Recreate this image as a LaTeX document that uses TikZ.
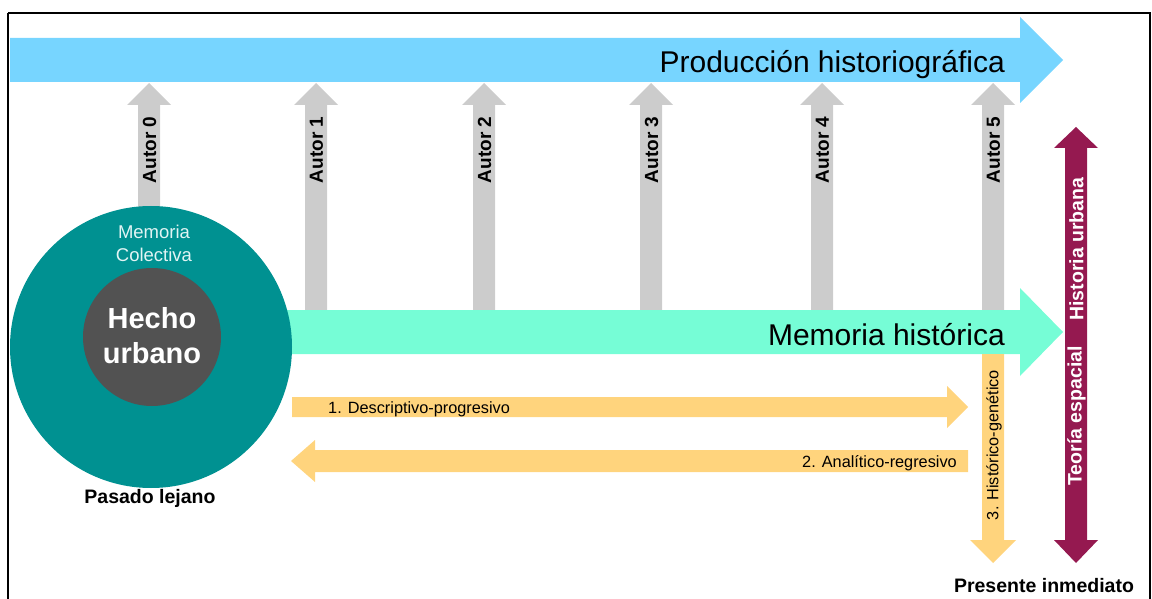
\documentclass[tikz,border=0pt]{standalone}
\usepackage{fontspec}
\setmainfont{Liberation Sans}
\definecolor{cblue}{HTML}{77D5FF}
\definecolor{cgreen}{HTML}{76FDD6}
\definecolor{cgray}{HTML}{CCCCCC}
\definecolor{cyellow}{HTML}{FFD47D}
\definecolor{cmaroon}{HTML}{951950}
\definecolor{cteal}{HTML}{009191}
\definecolor{cdark}{HTML}{525252}
\definecolor{clight}{HTML}{E2F4F4}
\tikzset{
  blk/.style={fill=#1, draw=none},
  bigtxt/.style={font=\fontsize{30}{36}\selectfont, inner sep=0pt},
  autortxt/.style={font=\bfseries\fontsize{19}{22}\selectfont, rotate=90, inner sep=0pt},
  smalltxt/.style={font=\fontsize{16.3}{19}\selectfont, inner sep=0pt},
  boldlbl/.style={font=\bfseries\fontsize{19.5}{23}\selectfont, inner sep=0pt},
}
\begin{document}
\begin{tikzpicture}[x=1pt,y=-1pt]
\useasboundingbox (0,0) rectangle (1152,599);
% frame
\draw[line width=2pt] (8,13) -- (1150,13) -- (1150,615) (8,13) -- (8,615);
% blue arrow
\fill[cblue] (10,38) -- (1020,38) -- (1020,17) -- (1063,60) -- (1020,103) -- (1020,82) -- (10,82) -- cycle;
\node[bigtxt, anchor=base east] (prod) at (1005,73) {Producción historiográfica};
% gray author arrows
\foreach \cx/\yb/\k in {149/240/0, 316/315/1, 484/315/2, 651/315/3, 822/315/4, 993/315/5}{
  \fill[cgray] (\cx-11,\yb) -- (\cx-11,105) -- (\cx-22,105) -- (\cx,83) -- (\cx+22,105) -- (\cx+11,105) -- (\cx+11,\yb) -- cycle;
  \node[autortxt] (autor\k) at (\cx+0.5,150) {Autor \k};
}
% green arrow
\fill[cgreen] (270,310) -- (1020,310) -- (1020,288) -- (1063,332) -- (1020,376) -- (1020,354) -- (270,354) -- cycle;
\node[bigtxt, anchor=base east] (memh) at (1005,345) {Memoria histórica};
% circles
\fill[cteal] (151,347) circle[radius=141];
\fill[cdark] (152,337) circle[radius=69];
\node[font=\fontsize{18.5}{23}\selectfont, text=clight, align=center, inner sep=0pt, anchor=base] (memc) at (154,261) {Memoria\\Colectiva};
\node[font=\bfseries\fontsize{29}{35}\selectfont, text=white, align=center, inner sep=0pt, anchor=base] (hecho) at (152,363) {Hecho\\urbano};
% yellow arrows
\fill[cyellow] (292,397) -- (947,397) -- (947,386) -- (968,407) -- (947,428) -- (947,417) -- (292,417) -- cycle;
\node[smalltxt, anchor=base west] (desc) at (328,413) {1. Descriptivo-progresivo};
\fill[cyellow] (968,450) -- (315,450) -- (315,440) -- (291,461) -- (315,482) -- (315,472) -- (968,472) -- cycle;
\node[smalltxt, anchor=base east] (anal) at (957,467) {2. Analítico-regresivo};
\fill[cyellow] (982,354) -- (1004,354) -- (1004,540) -- (1016,540) -- (993,563) -- (970,540) -- (982,540) -- cycle;
\node[smalltxt, rotate=90] (hist) at (994,445) {3. Histórico-genético};
% maroon double arrow
\fill[cmaroon] (1065,148) -- (1054,148) -- (1076,127) -- (1098,148) -- (1087,148) -- (1087,540) -- (1098,540) -- (1076,563) -- (1054,540) -- (1065,540) -- cycle;
\node[boldlbl, rotate=90, text=white] (hu) at (1076.5,249) {Historia urbana};
\node[boldlbl, rotate=90, text=white] (te) at (1076.5,416) {Teoría espacial};
% labels
\node[boldlbl, anchor=base] (pasado) at (150,503) {Pasado lejano};
\node[boldlbl, anchor=base] (presente) at (1044,592) {Presente inmediato};
\end{tikzpicture}
\end{document}
